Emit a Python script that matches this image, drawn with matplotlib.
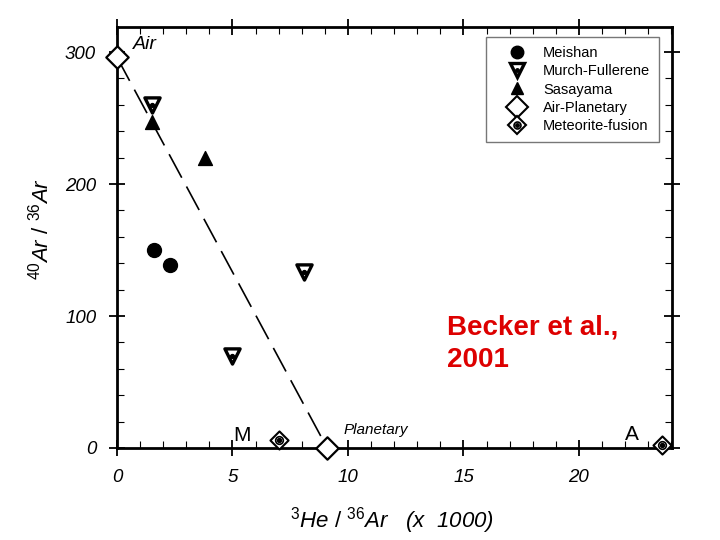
import matplotlib
matplotlib.use("Agg")
import matplotlib.pyplot as plt
from matplotlib.ticker import MultipleLocator
from matplotlib.lines import Line2D

plt.rcParams['font.family'] = ['Liberation Sans', 'DejaVu Sans']
plt.rcParams['mathtext.fontset'] = 'custom'
plt.rcParams['mathtext.rm'] = 'Liberation Sans'
plt.rcParams['mathtext.it'] = 'Liberation Sans:italic'

meishan_x = [1.6, 2.3]
meishan_y = [150, 139]
murch_x = [1.5, 8.1, 5.0]
murch_y = [260, 133, 70]
sasayama_x = [1.5, 3.8]
sasayama_y = [247, 220]
airplan_x = [0.0, 9.1]
airplan_y = [296, 0]
meteor_x = [7.0, 23.6]
meteor_y = [6, 2]

fig = plt.figure(figsize=(7.2, 5.4), dpi=100)
ax = fig.add_axes([0.1625, 0.1704, 0.7708, 0.7796])
ax.set_xlim(0, 24.03)
ax.set_ylim(0, 319)

# dashed mixing line Air -> Planetary
ax.plot(airplan_x, airplan_y, color='black', lw=1.2, dashes=(16, 6), zorder=1)

ax.scatter(meishan_x, meishan_y, s=100, marker='o', color='black', zorder=3)
ax.scatter(murch_x, murch_y, s=120, marker='v', facecolor='white', edgecolor='black', linewidths=2.4, zorder=3)
ax.scatter(murch_x, murch_y, s=8, marker='o', color='black', zorder=4)
ax.scatter(sasayama_x, sasayama_y, s=100, marker='^', color='black', zorder=3)
ax.scatter(airplan_x, airplan_y, s=130, marker='D', facecolor='white', edgecolor='black', linewidths=1.6, zorder=3, clip_on=False)
ax.scatter(meteor_x, meteor_y, s=85, marker='D', facecolor='white', edgecolor='black', linewidths=1.5, zorder=3, clip_on=False)
ax.scatter(meteor_x, meteor_y, s=30, marker='o', facecolor='white', edgecolor='black', linewidths=1.2, zorder=4, clip_on=False)
ax.scatter(meteor_x, meteor_y, s=8, marker='o', color='black', zorder=5, clip_on=False)

ax.text(0.7, 299, 'Air', fontsize=14, style='italic', ha='left', va='bottom')
ax.text(9.8, 8, 'Planetary', fontsize=11, style='italic', ha='left', va='bottom')
ax.text(5.05, 2, 'M', fontsize=15, ha='left', va='bottom')
ax.text(22.0, 3, 'A', fontsize=15, ha='left', va='bottom')
ax.text(14.3, 101, 'Becker et al.,\n2001', fontsize=20, fontweight='bold', color='#dd0000',
        ha='left', va='top', linespacing=1.3)

ax.set_xlabel(r'$^{3}He\ /\ ^{36}Ar$   (x  1000)', fontsize=16, style='italic')
ax.xaxis.set_label_coords(0.495, -0.135)
ax.set_ylabel(r'$^{40}Ar\ /\ ^{36}Ar$', fontsize=16)
ax.yaxis.set_label_coords(-0.115, 0.52)

ax.xaxis.set_major_locator(MultipleLocator(5))
ax.xaxis.set_minor_locator(MultipleLocator(1))
ax.yaxis.set_major_locator(MultipleLocator(100))
ax.yaxis.set_minor_locator(MultipleLocator(20))
ax.tick_params(which='major', direction='inout', length=12, width=1.3, labelsize=13.5,
               top=True, right=True, pad=9)
ax.tick_params(which='minor', direction='in', length=5, width=0.8, top=True, right=True)
for lab in ax.get_xticklabels() + ax.get_yticklabels():
    lab.set_style('italic')
for sp in ax.spines.values():
    sp.set_linewidth(2)

h_meteor = (Line2D([], [], marker='D', ls='', ms=9, mfc='white', mec='black', mew=1.5),
            Line2D([], [], marker='o', ls='', ms=5, mfc='white', mec='black', mew=1.2),
            Line2D([], [], marker='o', ls='', ms=2.5, color='black'))
h_murch = (Line2D([], [], marker='v', ls='', ms=10, mfc='white', mec='black', mew=2.4),
           Line2D([], [], marker='o', ls='', ms=2.5, color='black'))
handles = [Line2D([], [], marker='o', ls='', ms=9, color='black'),
           h_murch,
           Line2D([], [], marker='^', ls='', ms=8, color='black'),
           Line2D([], [], marker='D', ls='', ms=11, mfc='white', mec='black', mew=1.5),
           h_meteor]
labels = ['Meishan', 'Murch-Fullerene', 'Sasayama', 'Air-Planetary', 'Meteorite-fusion']
leg = ax.legend(handles, labels, loc='upper right', bbox_to_anchor=(0.9766, 0.976),
                fontsize=10.5, frameon=True, fancybox=False, edgecolor='#555555',
                labelspacing=0.3, handlelength=3.0, handletextpad=0.3, borderpad=0.6,
                borderaxespad=0)
leg.get_frame().set_linewidth(1.0)

fig.savefig('out.png', dpi=100)
